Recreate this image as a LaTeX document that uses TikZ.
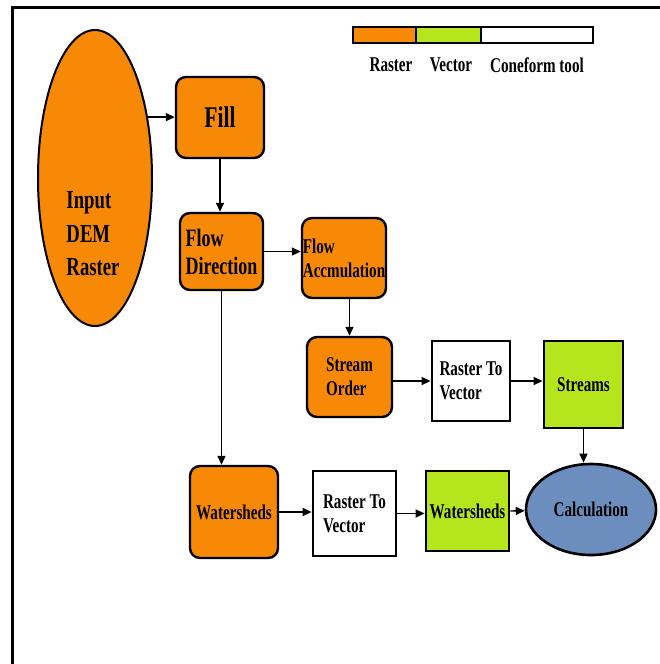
\documentclass[tikz,border=0pt]{standalone}
\usepackage{fontspec}
\setmainfont{Liberation Serif}[FakeStretch=0.72]
\usepackage{xcolor}
\usepackage{tikz}
\usetikzlibrary{arrows.meta,positioning,calc,shapes.geometric}
\definecolor{rasterorange}{RGB}{248,137,6}
\definecolor{vectorgreen}{RGB}{181,230,29}
\definecolor{calcblue}{RGB}{108,142,191}

\begin{document}
\begin{tikzpicture}[
    x=1pt,
    y=-1pt,
    >={Triangle[length=9pt,width=8pt]},
    lbl/.style={font=\fontsize{21}{24}\selectfont\bfseries, align=left, inner sep=0pt},
    rbox/.style={lbl, draw, line width=2.4pt, rounded corners=10pt, fill=rasterorange},
    sbox/.style={lbl, draw, line width=2.8pt},
    flow/.style={->, line width=1.4pt}
]
\useasboundingbox (0,0) rectangle (660,664);
\draw[line width=3pt] (12,664) -- (12,7) -- (660,7);

\draw[line width=1.5pt, fill=rasterorange] (353,27) rectangle (416,43);
\draw[line width=1.5pt, fill=vectorgreen] (416,27) rectangle (481,43);
\draw[line width=1.5pt, fill=white] (481,27) rectangle (593,43);
\node[lbl] (legras) at (391,65) {Raster};
\node[lbl] (legvec) at (451,65) {Vector};
\node[lbl] (legcone) at (537,65) {Coneform tool};

\node[draw, line width=2pt, ellipse, fill=rasterorange, minimum width=114, minimum height=296] (dem) at (95,178) {};
\node[lbl, font=\fontsize{26}{33.5}\selectfont\bfseries] (demtext) at (93,234) {Input\\DEM\\Raster};
\node[rbox, minimum width=88, minimum height=81, font=\fontsize{30}{34}\selectfont\bfseries] (fill) at (220,117.5) {Fill};
\node[rbox, minimum width=83, minimum height=77, font=\fontsize{25}{28}\selectfont\bfseries] (fd) at (221.5,251.5) {Flow\\Direction};
\node[rbox, minimum width=84, minimum height=80] (fa) at (344,258) {Flow\\Accmulation};
\node[rbox, minimum width=85, minimum height=80] (so) at (349.5,377) {Stream\\Order};
\node[sbox, fill=white, minimum width=78, minimum height=80] (rtv1) at (471,381) {Raster To\\Vector};
\node[sbox, fill=vectorgreen, minimum width=79, minimum height=87] (st) at (583.5,384.5) {Streams};
\node[rbox, minimum width=88, minimum height=92] (ws1) at (234,512) {Watersheds};
\node[sbox, fill=white, minimum width=83, minimum height=85] (rtv2) at (354.5,513.5) {Raster To\\Vector};
\node[sbox, fill=vectorgreen, minimum width=83, minimum height=80] (ws2) at (467.5,511) {Watersheds};
\node[lbl, draw, line width=2.6pt, ellipse, fill=calcblue, minimum width=130, minimum height=91] (calc) at (591,509.5) {Calculation};

\draw[flow] (dem.49.5) -- (dem.49.5 -| fill.west);
\draw[flow] (fill.south) -- (fill.south |- fd.north);
\draw[flow] (fd.east) -- (fd.east -| fa.west);
\draw[flow] (fa.south -| so.north) -- (so.north);
\draw[flow] (rtv1.west -| so.east) -- (rtv1.west);
\draw[flow] (rtv1.east) -- (rtv1.east -| st.west);
\draw[flow] (st.south) -- (st.south |- calc.north);
\draw[flow] (fd.south) -- (fd.south |- ws1.north);
\draw[flow] (ws1.east) -- (ws1.east -| rtv2.west);
\draw[flow] (rtv2.east) -- (rtv2.east -| ws2.west);
\draw[flow] (ws2.east) -- (calc);
\end{tikzpicture}
\end{document}
